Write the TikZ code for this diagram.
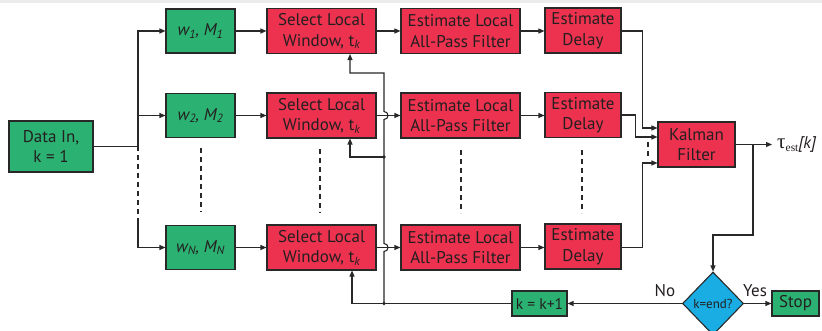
\documentclass[tikz,border=0pt]{standalone}
\usepackage{fontspec}
\setmainfont{PT Sans}
\newfontfamily\serifgr{Liberation Serif}
\usetikzlibrary{arrows.meta,shapes.geometric}
\definecolor{gr}{RGB}{43,178,114}
\definecolor{rd}{RGB}{237,50,80}
\definecolor{cy}{RGB}{25,173,228}
\definecolor{lc}{RGB}{40,40,40}
\definecolor{txt}{RGB}{35,31,32}
\newcommand\fsbig{\fontsize{17}{20.5}\selectfont}
\begin{document}
\begin{tikzpicture}[x=1pt,y=-1pt,
  box/.style={draw=lc, line width=1.1pt, inner sep=0pt, align=center, text=txt, font=\fsbig},
  gbox/.style={box, fill=gr},
  rbox/.style={box, fill=rd},
  ln/.style={draw=lc, line width=1.1pt},
  arr/.style={ln, -{Triangle[length=6pt,width=5pt]}},
  dsh/.style={ln, dash pattern=on 5pt off 4pt},
  lbl/.style={text=txt, inner sep=0pt, font=\fsbig}]
\useasboundingbox (0,0) rectangle (822,331);
\fill[gray!15] (0,0) rectangle (822,3);
% green input boxes
\node[gbox, minimum width=84pt, minimum height=51pt] (data) at (51,146.5) {Data In,\\k = 1};
\node[gbox, minimum width=69pt, minimum height=44pt] (w1) at (200.5,31) {\itshape w\textsubscript{1}, M\textsubscript{1}};
\node[gbox, minimum width=69pt, minimum height=44pt] (w2) at (200.5,115.5) {\itshape w\textsubscript{2}, M\textsubscript{2}};
\node[gbox, minimum width=69pt, minimum height=44pt] (wN) at (200.5,247.5) {\itshape w\textsubscript{N}, M\textsubscript{N}};
% select local window
\node[rbox, minimum width=109pt, minimum height=45pt] (s1) at (321.5,31) {Select Local\\Window, t\textsubscript{\itshape k}};
\node[rbox, minimum width=109pt, minimum height=45pt] (s2) at (321.5,115.5) {Select Local\\Window, t\textsubscript{\itshape k}};
\node[rbox, minimum width=109pt, minimum height=45pt] (sN) at (321.5,247.5) {Select Local\\Window, t\textsubscript{\itshape k}};
% all-pass
\node[rbox, minimum width=119pt, minimum height=45pt] (e1) at (460.5,31) {Estimate Local\\All-Pass Filter};
\node[rbox, minimum width=119pt, minimum height=45pt] (e2) at (460.5,115.5) {Estimate Local\\All-Pass Filter};
\node[rbox, minimum width=119pt, minimum height=45pt] (eN) at (460.5,247.5) {Estimate Local\\All-Pass Filter};
% delay
\node[rbox, minimum width=76pt, minimum height=45pt] (d1) at (583,30.5) {Estimate\\Delay};
\node[rbox, minimum width=76pt, minimum height=45pt] (d2) at (583,115) {Estimate\\Delay};
\node[rbox, minimum width=76pt, minimum height=45pt] (dN) at (583,246.5) {Estimate\\Delay};
% kalman
\node[rbox, minimum width=77pt, minimum height=45pt] (kal) at (696.5,144.5) {Kalman\\Filter};
\node[lbl, anchor=west] (tau) at (777,144.5) {{\serifgr\fontsize{21}{21}\selectfont τ}\raisebox{-3.5pt}{\serifgr\fontsize{11.5}{12}\selectfont est}\textit{[k]}};
% decision
\node[draw=lc, line width=1.1pt, fill=cy, diamond, aspect=1, inner sep=0pt, minimum width=61pt, minimum height=63pt, text=txt, font=\fontsize{13}{15}\selectfont] (dia) at (713,303.5) {k=end?};
\node[gbox, minimum width=47pt, minimum height=25pt] (stop) at (795.5,303.5) {Stop};
\node[gbox, minimum width=55pt, minimum height=25pt, font=\fontsize{15.5}{18}\selectfont] (kk) at (539.5,303.5) {k = k+1};
\node[lbl] (no) at (665,291) {No};
\node[lbl] (yes) at (755,291) {Yes};
% input fan-out
\coordinate (b1) at (138,31);
\coordinate (bd) at (138,222);
\coordinate (bN) at (138,247.5);
\draw[ln] (data.east) -- (data.east -| b1);
\draw[arr] (data.east -| b1) -- (b1) -- (w1.west);
\draw[arr] (b1 |- w2.west) -- (w2.west);
\draw[dsh] (data.east -| b1) -- (bd);
\draw[arr] (bd) -- (bN) -- (wN.west);
% rows
\draw[arr] (w1.east) -- (s1.west);
\draw[arr] (w2.east) -- (s2.west);
\draw[arr] (wN.east) -- (sN.west);
\draw[arr] (s1.east) -- (e1.west);
\draw[arr] (s2.east) -- (e2.west);
\draw[arr] (sN.east) -- (eN.west);
\draw[arr] (e1.east) -- (e1.east -| d1.west);
\draw[arr] (e2.east) -- (e2.east -| d2.west);
\draw[arr] (eN.east) -- (eN.east -| dN.west);
% ellipsis dashes
\draw[dsh] (201,148) -- (201,212);
\draw[dsh] (320,149) -- (320,213);
\draw[dsh] (461,150) -- (461,213);
\draw[dsh] (582,150) -- (582,213);
\draw[dsh] (648,142) -- (648,158);
% into kalman
\draw[arr] (d1.east |- 0,31) -| ([xshift=-15pt,yshift=16.5pt]kal.west) -- ([yshift=16.5pt]kal.west);
\draw[arr] (d2.east) -| ([xshift=-22pt,yshift=7.5pt]kal.west) -- ([yshift=7.5pt]kal.west);
\draw[arr] (dN.east |- 0,247.5) -| ([xshift=-15pt,yshift=-18.5pt]kal.west) -- ([yshift=-18.5pt]kal.west);
% kalman output
\coordinate (kb) at (753,144.5);
\draw[arr] (kal.east) -- ([xshift=-5pt]tau.west);
\draw[arr] (kb) -- (753,235) -- (713,235) -- (dia.north);
\draw[arr] (dia.east) -- (stop.west);
\draw[arr] (dia.west) -- (kk.east);
% feedback
\coordinate (ft) at (384,73);
\coordinate (f2) at (384,157);
\coordinate (fN) at (384,303.5);
\coordinate (a1) at (350,73);
\coordinate (a2) at (350,157);
\coordinate (aN) at (352,303.5);
\draw[arr] (kk.west) -- (aN) -- (aN |- sN.south);
\draw[arr] (fN) -- (384,251.5) .. controls (389.3,251.5) and (389.3,243.5) .. (384,243.5)
  -- (384,119.5) .. controls (389.3,119.5) and (389.3,111.5) .. (384,111.5)
  -- (ft) -- (a1) -- (a1 |- s1.south);
\draw[arr] (f2) -- (a2) -- (a2 |- s2.south);
\fill[lc] (f2) circle (1.8pt);
\fill[lc] (fN) circle (1.8pt);
\end{tikzpicture}
\end{document}
